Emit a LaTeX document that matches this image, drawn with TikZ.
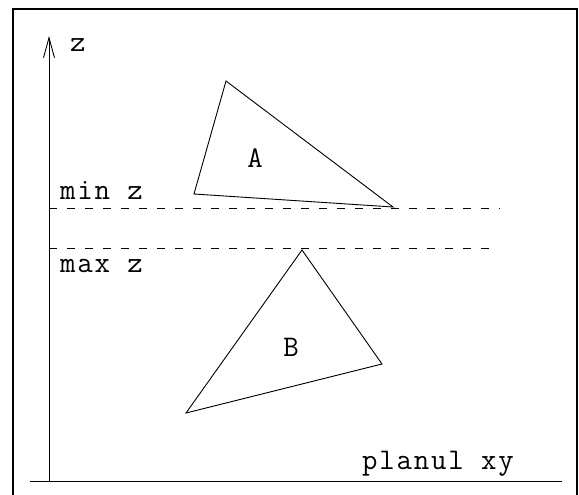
\documentclass[tikz,border=0pt]{standalone}
\usepackage{fontspec}
\setmonofont[LetterSpace=6]{Latin Modern Mono}
\usetikzlibrary{arrows.meta}
\begin{document}
\begin{tikzpicture}[x=1pt,y=-1pt,
  lbl/.style={inner sep=0pt,anchor=base west,font=\ttfamily\fontsize{30}{30}\selectfont},
  thin line/.style={line width=0.9pt},
  level/.style={line width=0.9pt,dash pattern=on 8pt off 10pt}]
\useasboundingbox (0,0) rectangle (579,495);
% frame
\draw[line width=2.4pt] (13,496) -- (13,9) -- (577,9) -- (577,496);
% axes
\coordinate (o) at (49,481);
\coordinate (ztop) at (49,36);
\coordinate (xl) at (30,481);
\coordinate (xr) at (562,481);
\draw[thin line] (xl) -- (xr);
\draw[thin line,-{Straight Barb[length=20pt,width=11pt]}] (o) -- (ztop);
% levels
\coordinate (m1) at (49,208);
\coordinate (m2) at (500,208);
\coordinate (n1) at (49,248);
\coordinate (n2) at (490,248);
\draw[level] (m1) -- (m2);
\draw[level] (n1) -- (n2);
% triangle A
\coordinate (a1) at (226,81);
\coordinate (a2) at (194,194);
\coordinate (a3) at (393,207);
\draw[thin line] (a1) -- (a2) -- (a3) -- cycle;
% triangle B
\coordinate (b1) at (302,250);
\coordinate (b2) at (186,413);
\coordinate (b3) at (382,364);
\draw[thin line] (b1) -- (b2) -- (b3) -- cycle;
% labels
\node[lbl] (zl) at (70,52) {z};
\node[lbl] (minz) at (60,199) {min z};
\node[lbl] (maxz) at (60,272) {max z};
\node[lbl,anchor=base] (la) at (255,167) {A};
\node[lbl,anchor=base] (lb) at (291,356) {B};
\node[lbl] (pl) at (362,469) {planul xy};
\end{tikzpicture}
\end{document}
